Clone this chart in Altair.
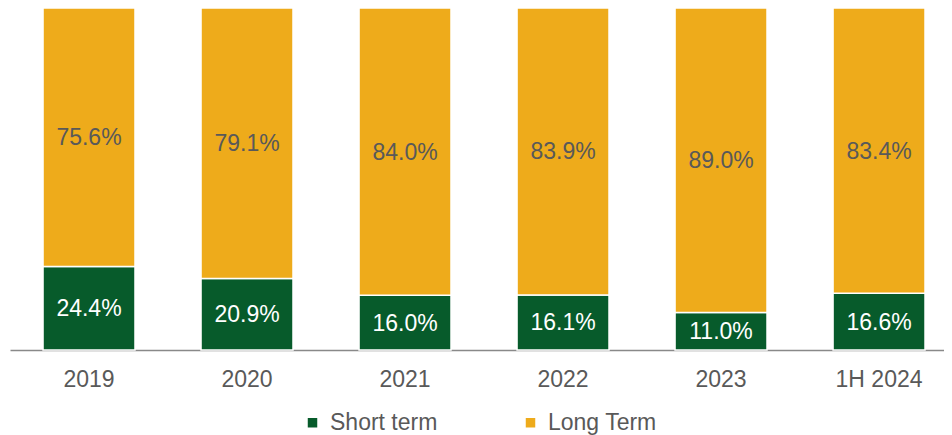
import altair as alt
import pandas as pd

categories = ["2019", "2020", "2021", "2022", "2023", "1H 2024"]
short_term = [24.4, 20.9, 16.0, 16.1, 11.0, 16.6]
long_term = [75.6, 79.1, 84.0, 83.9, 89.0, 83.4]
series = ["Short term", "Long Term"]
colors = ["#075B2B", "#EEAB1B"]

rows = []
for i, c in enumerate(categories):
    rows.append({"cat": c, "series": series[0], "value": short_term[i], "ord": 0})
    rows.append({"cat": c, "series": series[1], "value": long_term[i], "ord": 1})
df = pd.DataFrame(rows)

FONT = "Liberation Sans"
GREY = "#595959"

base = alt.Chart(df).transform_stack(
    stack="value", groupby=["cat"], as_=["y0", "y1"], sort=[alt.SortField("ord")]
).transform_calculate(mid="(datum.y0 + datum.y1) / 2")

x = alt.X("cat:N", sort=categories, title=None,
          scale=alt.Scale(paddingInner=0.418, paddingOuter=0.1646, align=0.635),
          axis=alt.Axis(labelAngle=0, labelFont=FONT, labelFontSize=23, labelColor=GREY,
                        ticks=False, domainColor="#898989", domainWidth=1.5, labelPadding=18))

bars = base.mark_bar(stroke="white", strokeWidth=1.5).encode(
    x=x,
    y=alt.Y("y0:Q", scale=alt.Scale(domain=[0, 100]), axis=None),
    y2="y1:Q",
    color=alt.Color("series:N", sort=series,
                    scale=alt.Scale(domain=series, range=colors),
                    legend=alt.Legend(title=None, orient="none", legendX=291, legendY=403,
                                      direction="horizontal", symbolType="square", symbolSize=90,
                                      labelFont=FONT, labelFontSize=23, labelColor=GREY,
                                      columnPadding=81, symbolStrokeWidth=0, labelOffset=6)),
)

labels = base.mark_text(font=FONT, fontSize=23, dy=1).encode(
    x=alt.X("cat:N", sort=categories),
    y=alt.Y("mid:Q"),
    color=alt.Color("series:N", scale=alt.Scale(domain=series, range=["white", GREY]), legend=None),
).transform_calculate(label="format(datum.value, '.1f') + '%'").encode(text="label:N")

chart = alt.layer(bars, labels).resolve_scale(color="independent").properties(
    width=934, height=342,
    autosize=alt.AutoSizeParams(type="none"),
    padding={"left": 2, "top": 0, "right": 0, "bottom": 85},
).configure_view(stroke=None)

chart.save("out.html", embed_options={"renderer": "svg", "actions": False})
